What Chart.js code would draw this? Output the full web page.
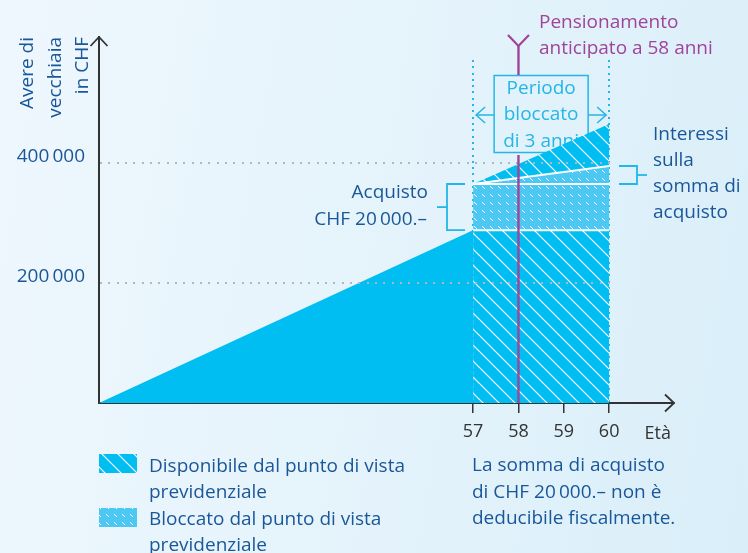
<!DOCTYPE html>
<html>
<head>
<meta charset="utf-8">
<script src="https://cdn.jsdelivr.net/npm/chart.js@4/dist/chart.umd.min.js"></script>
<style>
html,body{margin:0;padding:0;}
body{width:748px;height:553px;overflow:hidden;background:linear-gradient(100deg,#eef7fd 0%,#e4f3fb 55%,#d9eef9 100%);}
canvas{display:block;}
</style>
</head>
<body>
<canvas id="c" width="748" height="553"></canvas>
<script>
// ---- data ----
const xTicks = [57, 58, 59, 60];
const yTicks = [200000, 400000];
const X_MIN = 48.75, X_MAX = 61.43;
const Y_MAX = 610000;
const triangleAges = [48.75, 57];
const triangleValues = [0, 288000];
const periodAges = [57, 60];
const availableLevel = [288000, 288000];
const blockedLevel = [365000, 365000];
const interestLevel = [365000, 395000];
const totalLevel = [365000, 465000];
const retirementAge = 58;

const BLUE = '#00bdf2';
const LIGHT = '#4cc8f3';
const CYAN = '#23b6e8';
const PURPLE = '#a0449a';
const DARK = '#1a5799';
const AXIS = '#333333';
const FAMILY = '"Open Sans"';
const FONT = '19px ' + FAMILY;

function makeHatch() {
  const s = 16, c = document.createElement('canvas');
  c.width = s; c.height = s;
  const g = c.getContext('2d');
  g.fillStyle = BLUE; g.fillRect(0, 0, s, s);
  g.strokeStyle = '#ffffff'; g.lineWidth = 1.2;
  for (const o of [-s, 0, s]) { g.beginPath(); g.moveTo(0, o); g.lineTo(s, s + o); g.stroke(); }
  return g.createPattern(c, 'repeat');
}
function makeDash() {
  const s = 8, c = document.createElement('canvas');
  c.width = s; c.height = s;
  const g = c.getContext('2d');
  g.fillStyle = LIGHT; g.fillRect(0, 0, s, s);
  g.strokeStyle = '#ffffff'; g.lineWidth = 1;
  g.beginPath(); g.moveTo(2, 2); g.lineTo(5, 5); g.stroke();
  return g.createPattern(c, 'repeat');
}
const hatch = makeHatch();
const dash = makeDash();
const pts = (xs, ys) => xs.map((x, i) => ({x: x, y: ys[i]}));

function txt(ctx, s, x, y, color, align) {
  ctx.fillStyle = color; ctx.textAlign = align || 'left'; ctx.textBaseline = 'alphabetic';
  ctx.font = FONT; ctx.fillText(s, x, y);
}
function line(ctx, coords, color, w) {
  ctx.strokeStyle = color; ctx.lineWidth = w; ctx.beginPath();
  ctx.moveTo(coords[0][0], coords[0][1]);
  for (let i = 1; i < coords.length; i++) ctx.lineTo(coords[i][0], coords[i][1]);
  ctx.stroke();
}

const overlay = {
  id: 'overlay',
  beforeDatasetsDraw(chart) {
    const ctx = chart.ctx, x = chart.scales.x, y = chart.scales.y;
    ctx.save();
    // cyan dotted verticals
    ctx.fillStyle = CYAN;
    for (const a of periodAges) {
      const px = Math.round(x.getPixelForValue(a)) - 1;
      for (let yy = 60; yy < y.bottom; yy += 6.3) ctx.fillRect(px, Math.round(yy), 2, 2);
    }
    // box
    const cx = x.getPixelForValue(58.5);
    ctx.strokeStyle = CYAN; ctx.lineWidth = 1.5;
    ctx.strokeRect(cx - 47, 75.5, 94, 77);
    txt(ctx, 'Periodo', cx, 94, CYAN, 'center');
    txt(ctx, 'bloccato', cx, 120, CYAN, 'center');
    txt(ctx, 'di 3 anni', cx, 146.5, CYAN, 'center');
    // arrows
    const lx = x.getPixelForValue(periodAges[0]) + 3, rx = x.getPixelForValue(periodAges[1]) - 3;
    line(ctx, [[cx - 47, 115], [lx, 115]], CYAN, 1.5);
    line(ctx, [[lx + 9, 107], [lx, 115], [lx + 9, 123]], CYAN, 1.5);
    line(ctx, [[cx + 47, 115], [rx, 115]], CYAN, 1.5);
    line(ctx, [[rx - 9, 107], [rx, 115], [rx - 9, 123]], CYAN, 1.5);
    ctx.restore();
  },
  afterDatasetsDraw(chart) {
    const ctx = chart.ctx, x = chart.scales.x, y = chart.scales.y;
    ctx.save();
    // dotted gray gridlines
    ctx.fillStyle = '#b3b6ba';
    const gx1 = x.getPixelForValue(periodAges[1]);
    for (const v of yTicks) {
      const py = Math.round(y.getPixelForValue(v)) - 1;
      for (let xx = x.left + 1; xx <= gx1 + 1; xx += 8.33) ctx.fillRect(Math.round(xx), py, 2, 2);
    }
    // purple retirement line
    const px = x.getPixelForValue(retirementAge);
    line(ctx, [[px, 155], [px, y.bottom]], PURPLE, 2.4);
    line(ctx, [[px, 75], [px, 46]], PURPLE, 2.4);
    line(ctx, [[px - 10.5, 35], [px, 46], [px + 10.5, 35]], PURPLE, 2.2);
    txt(ctx, 'Pensionamento', 539, 28, PURPLE);
    txt(ctx, 'anticipato a 58 anni', 539, 54, PURPLE);
    // left bracket (purchase)
    const b1 = y.getPixelForValue(blockedLevel[0]), b0 = y.getPixelForValue(availableLevel[0]);
    line(ctx, [[465, b1], [447, b1], [447, b0], [465, b0]], CYAN, 1.8);
    line(ctx, [[437, (b0 + b1) / 2], [447, (b0 + b1) / 2]], CYAN, 1.8);
    txt(ctx, 'Acquisto', 428, 198, DARK, 'right');
    txt(ctx, 'CHF 20\u2009000.\u2013', 427, 225, DARK, 'right');
    // right bracket (interest)
    const i1 = y.getPixelForValue(interestLevel[1]), i0 = y.getPixelForValue(interestLevel[0]);
    line(ctx, [[619, i1], [637, i1], [637, i0], [619, i0]], CYAN, 1.8);
    line(ctx, [[637, (i0 + i1) / 2], [647, (i0 + i1) / 2]], CYAN, 1.8);
    txt(ctx, 'Interessi', 653, 140, DARK);
    txt(ctx, 'sulla', 653, 165.5, DARK);
    txt(ctx, 'somma di', 653, 192, DARK);
    txt(ctx, 'acquisto', 653, 218, DARK);
    ctx.restore();
  },
  afterDraw(chart) {
    const ctx = chart.ctx, x = chart.scales.x, y = chart.scales.y;
    ctx.save();
    // axis arrows
    line(ctx, [[x.left - 8.5, y.top + 9], [x.left, y.top], [x.left + 8.5, y.top + 9]], AXIS, 1.8);
    line(ctx, [[x.right - 9, y.bottom - 8.5], [x.right, y.bottom], [x.right - 9, y.bottom + 8.5]], AXIS, 1.8);
    ctx.font = '18px ' + FAMILY;
    ctx.fillStyle = AXIS; ctx.textAlign = 'center'; ctx.textBaseline = 'alphabetic';
    ctx.fillText('Età', x.getPixelForValue(61.07), 438.5);
    // y title (rotated)
    const title = ['Avere di', 'vecchiaia', 'in CHF'];
    const bases = [33, 61, 88];
    title.forEach((t, i) => {
      ctx.save();
      ctx.translate(bases[i], 37);
      ctx.rotate(-Math.PI / 2);
      txt(ctx, t, 0, 0, DARK, 'right');
      ctx.restore();
    });
    // legend
    ctx.fillStyle = hatch; ctx.fillRect(99, 454, 38, 19);
    ctx.fillStyle = dash; ctx.fillRect(99, 508, 38, 19);
    txt(ctx, 'Disponibile dal punto di vista', 149, 471.5, DARK);
    txt(ctx, 'previdenziale', 149, 497.5, DARK);
    txt(ctx, 'Bloccato dal punto di vista', 149, 524.5, DARK);
    txt(ctx, 'previdenziale', 149, 551, DARK);
    txt(ctx, 'La somma di acquisto', 472, 471, DARK);
    txt(ctx, 'di CHF 20\u2009000.\u2013 non è', 472, 497.5, DARK);
    txt(ctx, 'deducibile fiscalmente.', 472, 523.5, DARK);
    ctx.restore();
  }
};

new Chart(document.getElementById('c'), {
  type: 'line',
  data: {
    datasets: [
      {data: pts(triangleAges, triangleValues), fill: 'origin', backgroundColor: BLUE, borderColor: BLUE, borderWidth: 0},
      {data: pts(periodAges, availableLevel), fill: 'origin', backgroundColor: hatch, borderColor: '#ffffff', borderWidth: 2},
      {data: pts(periodAges, blockedLevel), fill: '-1', backgroundColor: dash, borderColor: '#ffffff', borderWidth: 2},
      {data: pts(periodAges, interestLevel), fill: '-1', backgroundColor: dash, borderColor: '#ffffff', borderWidth: 2},
      {data: pts(periodAges, totalLevel), fill: '-1', backgroundColor: hatch, borderColor: BLUE, borderWidth: 0}
    ]
  },
  options: {
    responsive: false,
    animation: false,
    devicePixelRatio: 1,
    layout: {padding: {top: 37, right: 74, left: 0, bottom: 0}},
    plugins: {legend: {display: false}, tooltip: {enabled: false}},
    elements: {point: {radius: 0}, line: {tension: 0}},
    scales: {
      x: {
        type: 'linear', min: X_MIN, max: X_MAX,
        afterBuildTicks: s => { s.ticks = xTicks.map(v => ({value: v})); },
        afterFit: s => { s.height = 150; },
        grid: {display: true, drawOnChartArea: false, drawTicks: true, tickLength: 10, color: AXIS, lineWidth: 1.5},
        border: {display: true, color: AXIS, width: 2},
        ticks: {color: AXIS, font: {family: 'Open Sans', size: 18}, padding: 8, maxRotation: 0, autoSkip: false, callback: v => String(v)}
      },
      y: {
        min: 0, max: Y_MAX,
        afterBuildTicks: s => { s.ticks = yTicks.map(v => ({value: v})); },
        afterFit: s => { s.width = 99; },
        grid: {display: false, drawTicks: false},
        border: {display: true, color: AXIS, width: 2},
        ticks: {color: DARK, font: {family: 'Open Sans', size: 19}, padding: 14, labelOffset: -6,
          callback: v => Math.round(v / 1000) + '\u2009000'}
      }
    }
  },
  plugins: [overlay]
});
</script>
</body>
</html>
